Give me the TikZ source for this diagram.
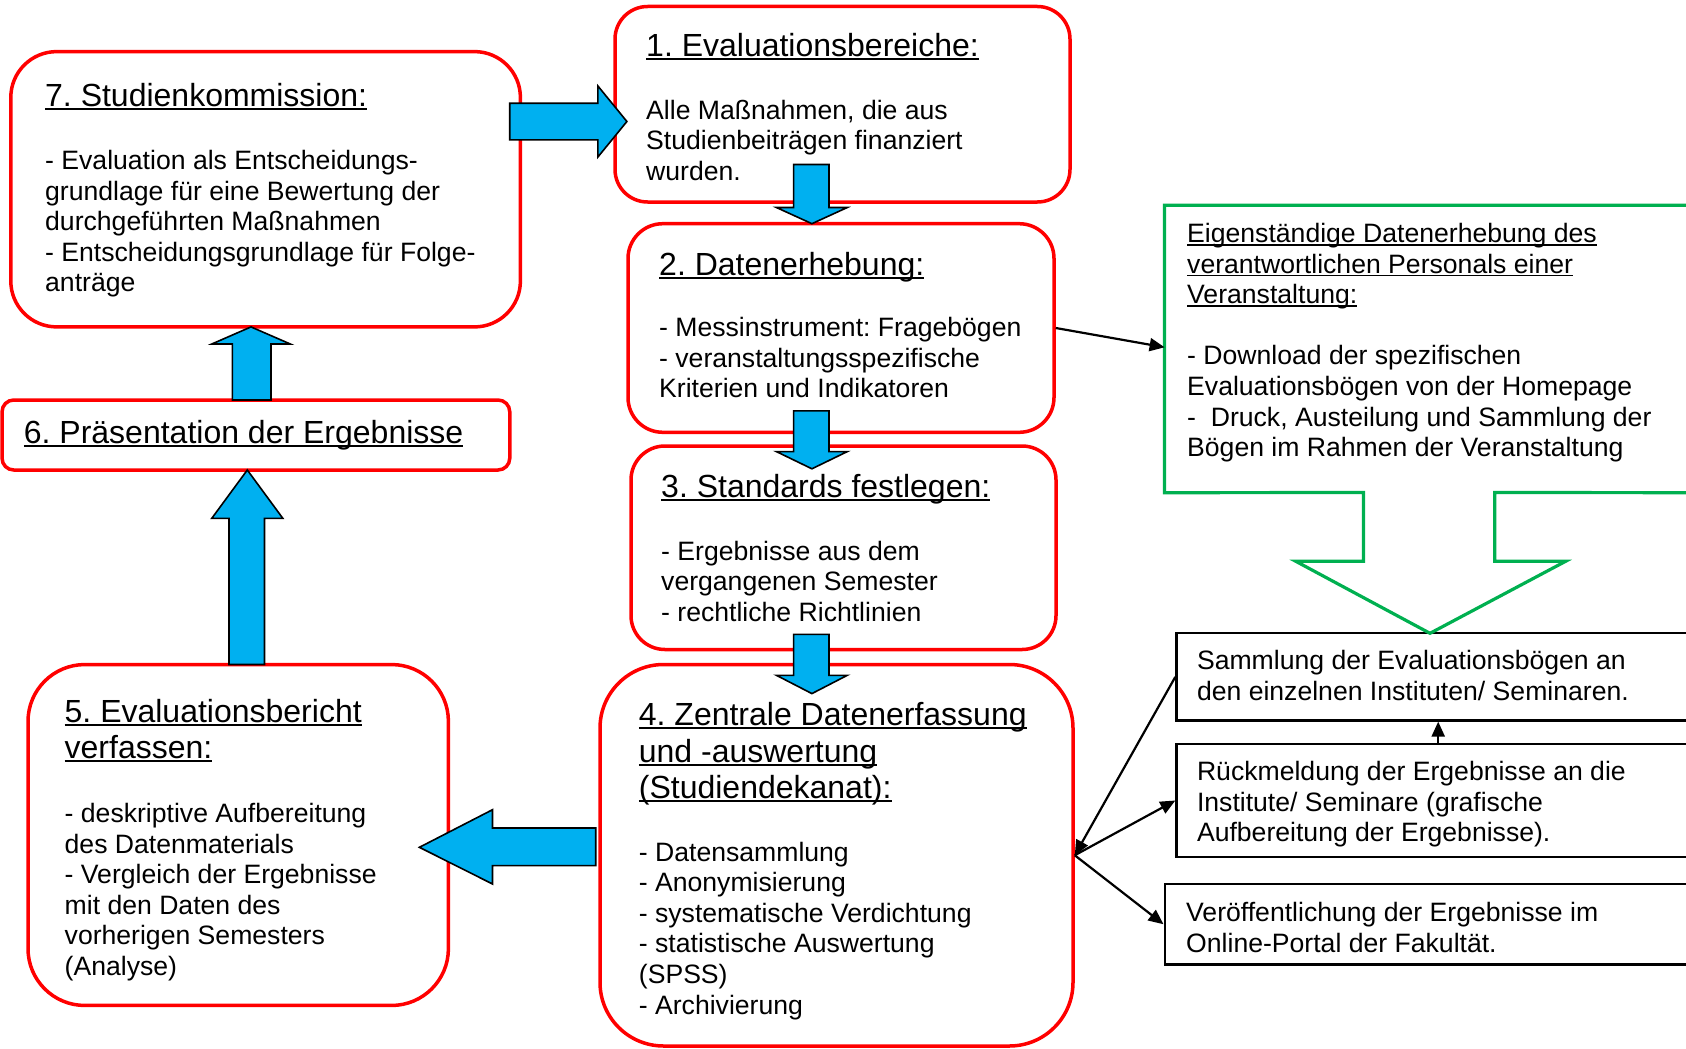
\documentclass[tikz,border=0pt]{standalone}
\usepackage{fontspec}
\setmainfont{Liberation Sans}
\usetikzlibrary{arrows.meta,calc}
\definecolor{boxred}{RGB}{255,0,0}
\definecolor{arrblue}{RGB}{0,176,240}
\definecolor{calloutgreen}{RGB}{0,176,80}
\frenchspacing
\newcommand\ulx[1]{\leavevmode\setbox0=\hbox{#1}\rlap{\rule[-0.12em]{\wd0}{0.065em}}\box0}
\newcommand\ttlfont{\fontsize{32}{36.5}\selectfont}
\newcommand\bodyfont{\fontsize{26.6}{30.6}\selectfont}
\newcommand\tbox[1]{\parbox[t]{640pt}{\raggedright\frenchspacing #1}}
\begin{document}
\begin{tikzpicture}[x=1pt,y=-1pt,
  rbox/.style={draw=boxred, line width=3.5pt, fill=white, inner sep=0pt, rounded corners=#1},
  kbox/.style={draw=black, line width=2.2pt, fill=white, inner sep=0pt},
  ttl/.style={anchor=base west, inner sep=0pt, font=\ttlfont},
  txt/.style={anchor=base west, inner sep=0pt, font=\bodyfont},
  barrow/.style={fill=arrblue, draw=black, line width=1.6pt, line join=miter},
  blk/.style={draw=black, line width=2.2pt, -{Triangle[length=15pt,width=13pt]}}]
\useasboundingbox (0,0) rectangle (1686,1049);
\clip (0,0) rectangle (1686,1049);

% red boxes
\node[rbox=45.9, minimum width=509.6, minimum height=275.3] (b7) at (265.6,189.25) {};
\node[rbox=32.6, minimum width=455, minimum height=195.5] (b1) at (842.5,104.25) {};
\node[rbox=34.8, minimum width=426, minimum height=208.6] (b2) at (841,328) {};
\node[rbox=33.9, minimum width=425, minimum height=203.5] (b3) at (843.5,547.75) {};
\node[rbox=63.6, minimum width=473, minimum height=381.5] (b4) at (836.5,855.25) {};
\node[rbox=56.8, minimum width=420.4, minimum height=340.9] (b5) at (238.2,835) {};
\node[rbox=11.7, minimum width=507.7, minimum height=70] (b6) at (255.9,435) {};

% black boxes
\node[kbox, minimum width=523.6, minimum height=87.2] (ra) at (1438.2,676.9) {};
\node[kbox, minimum width=523.6, minimum height=113] (rb) at (1438.2,800.5) {};
\node[kbox, minimum width=535.4, minimum height=80.5] (rc) at (1432.3,924.25) {};

% green callout
\node[inner sep=0pt, minimum width=535.4, minimum height=287.1] (g) at (1432.3,348.95) {};
\draw[calloutgreen, line width=3.2pt, line join=miter]
  (g.north east) -- (g.north west) -- (g.south west) -- (1363.5,492.5) -- (1363.5,561.3)
  -- (1295.8,561.3) -- (1430,633.3) -- (1565.6,561.3) -- (1494.7,561.3) -- (1494.7,492.5)
  -- (g.south east);

% texts
\node[ttl] (t7) at (45,106) {\tbox{\ulx{7. Studienkommission:}}};
\node[txt] (x7) at (45,169.5) {\tbox{- Evaluation als Entscheidungs-\\grundlage für eine Bewertung der\\durchgeführten Maßnahmen\\- Entscheidungsgrundlage für Folge-\\anträge}};

\node[ttl] (t1) at (646,56.5) {\tbox{\ulx{1. Evaluationsbereiche:}}};
\node[txt] (x1) at (646,119) {\tbox{Alle Maßnahmen, die aus\\Studienbeiträgen finanziert\\wurden.}};

\node[ttl] (t2) at (659,275) {\tbox{\ulx{2. Datenerhebung:}}};
\node[txt] (x2) at (659,336.5) {\tbox{- Messinstrument: Fragebögen\\- veranstaltungsspezifische\\Kriterien und Indikatoren}};

\node[ttl] (t3) at (661,497.5) {\tbox{\ulx{3. Standards festlegen:}}};
\node[txt] (x3) at (661,560) {\tbox{- Ergebnisse aus dem\\vergangenen Semester\\- rechtliche Richtlinien}};

\node[ttl] (t4) at (638.7,725.5) {\tbox{\ulx{4. Zentrale Datenerfassung}\\\ulx{und -auswertung}\\\ulx{(Studiendekanat):}}};
\node[txt] (x4) at (638.7,861) {\tbox{- Datensammlung\\- Anonymisierung\\- systematische Verdichtung\\- statistische Auswertung\\(SPSS)\\- Archivierung}};

\node[ttl] (t5) at (64.5,722) {\tbox{\ulx{5. Evaluationsbericht}\\\ulx{verfassen:}}};
\node[txt] (x5) at (64.5,822.5) {\tbox{- deskriptive Aufbereitung\\des Datenmaterials\\- Vergleich der Ergebnisse\\mit den Daten des\\vorherigen Semesters\\(Analyse)}};

\node[ttl] (t6) at (23.7,443.5) {\tbox{\ulx{6. Präsentation der Ergebnisse}}};

\node[txt] (xg) at (1187,242.5) {\tbox{\ulx{Eigenständige Datenerhebung des}\\\ulx{verantwortlichen Personals einer}\\\ulx{Veranstaltung:}\\\mbox{}\\- Download der spezifischen\\Evaluationsbögen von der Homepage\\-\ \ Druck, Austeilung und Sammlung der\\Bögen im Rahmen der Veranstaltung}};

\node[txt] (xa) at (1196.8,669.5) {\tbox{Sammlung der Evaluationsbögen an\\den einzelnen Instituten/ Seminaren.}};
\node[txt] (xb) at (1196.8,780.5) {\tbox{Rückmeldung der Ergebnisse an die\\Institute/ Seminare (grafische\\Aufbereitung der Ergebnisse).}};
\node[txt] (xc) at (1186,921.5) {\tbox{Veröffentlichung der Ergebnisse im\\Online-Portal der Fakultät.}};

% blue block arrows
\draw[barrow] (509.7,103.2) -- (597.9,103.2) -- (597.9,86) -- (626.9,121.5) -- (597.9,157) -- (597.9,139.8) -- (509.7,139.8) -- cycle;
\draw[barrow] (793.6,164.5) -- (829,164.5) -- (829,207.5) -- (847.3,207.5) -- (811.9,223.7) -- (776.4,207.5) -- (793.6,207.5) -- cycle;
\draw[barrow] (793.6,410.8) -- (829,410.8) -- (829,451.6) -- (847.3,451.6) -- (811.9,468.8) -- (776.4,451.6) -- (793.6,451.6) -- cycle;
\draw[barrow] (793.6,634.4) -- (829,634.4) -- (829,675.3) -- (847.3,675.3) -- (811.9,693.6) -- (776.4,675.3) -- (793.6,675.3) -- cycle;
\draw[barrow] (595.7,828) -- (492.5,828) -- (492.5,809.7) -- (419.4,847.3) -- (492.5,884) -- (492.5,865.6) -- (595.7,865.6) -- cycle;
\draw[barrow] (229,664.5) -- (229,518.3) -- (211.8,518.3) -- (247.3,470) -- (282.8,518.3) -- (264.5,518.3) -- (264.5,664.5) -- cycle;
\draw[barrow] (232.3,400) -- (232.3,344) -- (211.8,344) -- (251,326.9) -- (290.3,344) -- (271,344) -- (271,400) -- cycle;

% black connectors
\coordinate (gw) at (1164.6,347.3);
\draw[blk] (b2.east) -- (gw);
\draw[blk] (ra.west) -- (b4.east);
\draw[blk] (b4.east) -- (rb.west);
\draw[blk] (b4.east) -- (rc.west);
\draw[blk] (rb.north) -- (ra.south);
\end{tikzpicture}
\end{document}
